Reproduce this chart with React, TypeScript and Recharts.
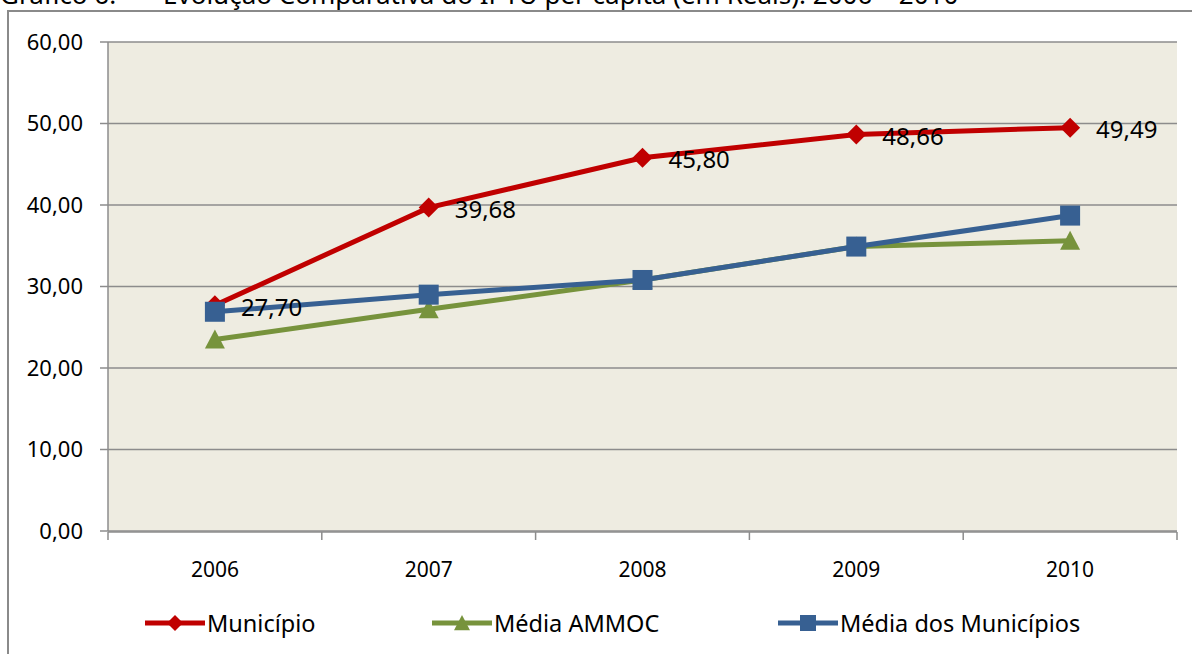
import React from 'react';
import {
  LineChart,
  Line,
  XAxis,
  YAxis,
  CartesianGrid,
  Legend,
  LabelList,
} from 'recharts';

const YEARS = ['2006', '2007', '2008', '2009', '2010'];
const MUNICIPIO = [27.7, 39.68, 45.8, 48.66, 49.49];
const MEDIA_AMMOC = [23.5, 27.2, 30.8, 34.9, 35.6];
const MEDIA_MUNICIPIOS = [26.9, 29.0, 30.8, 34.9, 38.7];
const Y_TICKS = [0, 10, 20, 30, 40, 50, 60];

const RED = '#C00000';
const GREEN = '#77933C';
const BLUE = '#376092';
const GRID = '#8c8c8c';
const FONT = '"Noto Sans", "Open Sans", sans-serif';

const data = YEARS.map((year, i) => ({
  year,
  pos: i,
  municipio: MUNICIPIO[i],
  ammoc: MEDIA_AMMOC[i],
  media: MEDIA_MUNICIPIOS[i],
}));

// category boundaries (tick marks sit between the years)
const EDGE_TICKS = [...YEARS.map((_, i) => i - 0.5), YEARS.length - 0.5];

const fmt = (v: number) => v.toFixed(2).replace('.', ',');

type Shape = 'diamond' | 'triangle' | 'square';

function marker(shape: Shape, cx: number, cy: number, r: number, color: string) {
  if (shape === 'diamond') {
    return (
      <polygon
        points={`${cx},${cy - r} ${cx + r},${cy} ${cx},${cy + r} ${cx - r},${cy}`}
        fill={color}
      />
    );
  }
  if (shape === 'triangle') {
    return (
      <polygon
        points={`${cx},${cy - r} ${cx + r},${cy + r * 0.9} ${cx - r},${cy + r * 0.9}`}
        fill={color}
      />
    );
  }
  return <rect x={cx - r} y={cy - r} width={r * 2} height={r * 2} fill={color} />;
}

const makeDot = (shape: Shape, color: string) => (props: any) => {
  const { cx, cy, index } = props;
  if (cx == null || cy == null) return <g key={index} />;
  return <g key={index}>{marker(shape, cx, cy, 10, color)}</g>;
};

const renderLabel = (props: any) => {
  const { x, y, value } = props;
  return (
    <text
      x={x + 26}
      y={y + 1}
      dominantBaseline="central"
      fontSize={24}
      fontFamily={FONT}
      fill="#000"
    >
      {fmt(Number(value))}
    </text>
  );
};

const renderYearTick = (props: any) => {
  const { x, y, payload } = props;
  return (
    <text
      x={x}
      y={y + 30}
      textAnchor="middle"
      dominantBaseline="central"
      fontSize={21}
      fontFamily={FONT}
      fill="#000"
    >
      {payload.value}
    </text>
  );
};

const LEGEND_ITEMS: { label: string; color: string; shape: Shape; left: number }[] = [
  { label: 'Município', color: RED, shape: 'diamond', left: 145 },
  { label: 'Média AMMOC', color: GREEN, shape: 'triangle', left: 432 },
  { label: 'Média dos Municípios', color: BLUE, shape: 'square', left: 778 },
];

function LegendContent() {
  return (
    <div style={{ position: 'relative', width: 1192, height: 36 }}>
      {LEGEND_ITEMS.map((it) => (
        <div
          key={it.label}
          style={{
            position: 'absolute',
            left: it.left,
            top: 0,
            height: 36,
            display: 'flex',
            alignItems: 'center',
            fontFamily: FONT,
            fontSize: 23.5,
            color: '#000',
            whiteSpace: 'nowrap',
          }}
        >
          <svg width={60} height={24} style={{ marginRight: 2 }}>
            <line x1={0} y1={12} x2={60} y2={12} stroke={it.color} strokeWidth={5} />
            {marker(it.shape, 30, 12, 8, it.color)}
          </svg>
          {it.label}
        </div>
      ))}
    </div>
  );
}

export default function App() {
  return (
    <div
      style={{
        position: 'absolute',
        left: 0,
        top: 0,
        width: 1192,
        height: 654,
        overflow: 'hidden',
        background: '#fff',
      }}
    >
      <div
        style={{
          position: 'absolute',
          left: 0,
          top: -19,
          fontFamily: FONT,
          fontSize: 26,
          lineHeight: 1,
          whiteSpace: 'pre',
          color: '#000',
        }}
      >
        Gráfico 6:  –   Evolução Comparativa do IPTU per capita (em Reais): 2006 – 2010
      </div>
      <div
        style={{
          position: 'absolute',
          left: 7,
          top: 10,
          width: 1250,
          height: 700,
          border: '2px solid #8a8a8a',
          boxSizing: 'border-box',
        }}
      />
      <div style={{ position: 'absolute', left: 0, top: 0 }}>
        <LineChart
          width={1192}
          height={654}
          data={data}
          margin={{ top: 42, right: 15, bottom: 121, left: 0 }}
        >
          <CartesianGrid
            xAxisId="edges"
            vertical={false}
            stroke={GRID}
            strokeWidth={1.5}
            fill="#EEECE1"
          />
          <XAxis
            xAxisId="edges"
            dataKey="pos"
            type="number"
            domain={[EDGE_TICKS[0], EDGE_TICKS[EDGE_TICKS.length - 1]]}
            ticks={EDGE_TICKS}
            allowDataOverflow
            interval={0}
            height={1}
            tickFormatter={() => ''}
            tickSize={8}
            axisLine={{ stroke: GRID, strokeWidth: 1.5 }}
            tickLine={{ stroke: GRID, strokeWidth: 1.5 }}
          />
          <XAxis
            dataKey="year"
            height={1}
            padding={{ left: 107, right: 107 }}
            axisLine={false}
            tickLine={false}
            interval={0}
            tick={renderYearTick}
          />
          <YAxis
            width={108}
            domain={[0, 60]}
            ticks={Y_TICKS}
            tickFormatter={fmt}
            tickSize={8}
            tickMargin={17}
            axisLine={{ stroke: GRID, strokeWidth: 1.5 }}
            tickLine={{ stroke: GRID, strokeWidth: 1.5 }}
            tick={{ fontSize: 22, fontFamily: FONT, fill: '#000' }}
          />
          <Line
            xAxisId="edges"
            dataKey="municipio"
            name="Município"
            stroke={RED}
            strokeWidth={5}
            dot={makeDot('diamond', RED)}
            activeDot={false}
            isAnimationActive={false}
          >
            <LabelList dataKey="municipio" content={renderLabel} />
          </Line>
          <Line
            xAxisId="edges"
            dataKey="ammoc"
            name="Média AMMOC"
            stroke={GREEN}
            strokeWidth={5}
            dot={makeDot('triangle', GREEN)}
            activeDot={false}
            isAnimationActive={false}
          />
          <Line
            xAxisId="edges"
            dataKey="media"
            name="Média dos Municípios"
            stroke={BLUE}
            strokeWidth={5}
            dot={makeDot('square', BLUE)}
            activeDot={false}
            isAnimationActive={false}
          />
          <Legend
            verticalAlign="middle"
            content={() => <LegendContent />}
            wrapperStyle={{ top: 605, left: 0, width: 1192, height: 36 }}
          />
        </LineChart>
      </div>
    </div>
  );
}
